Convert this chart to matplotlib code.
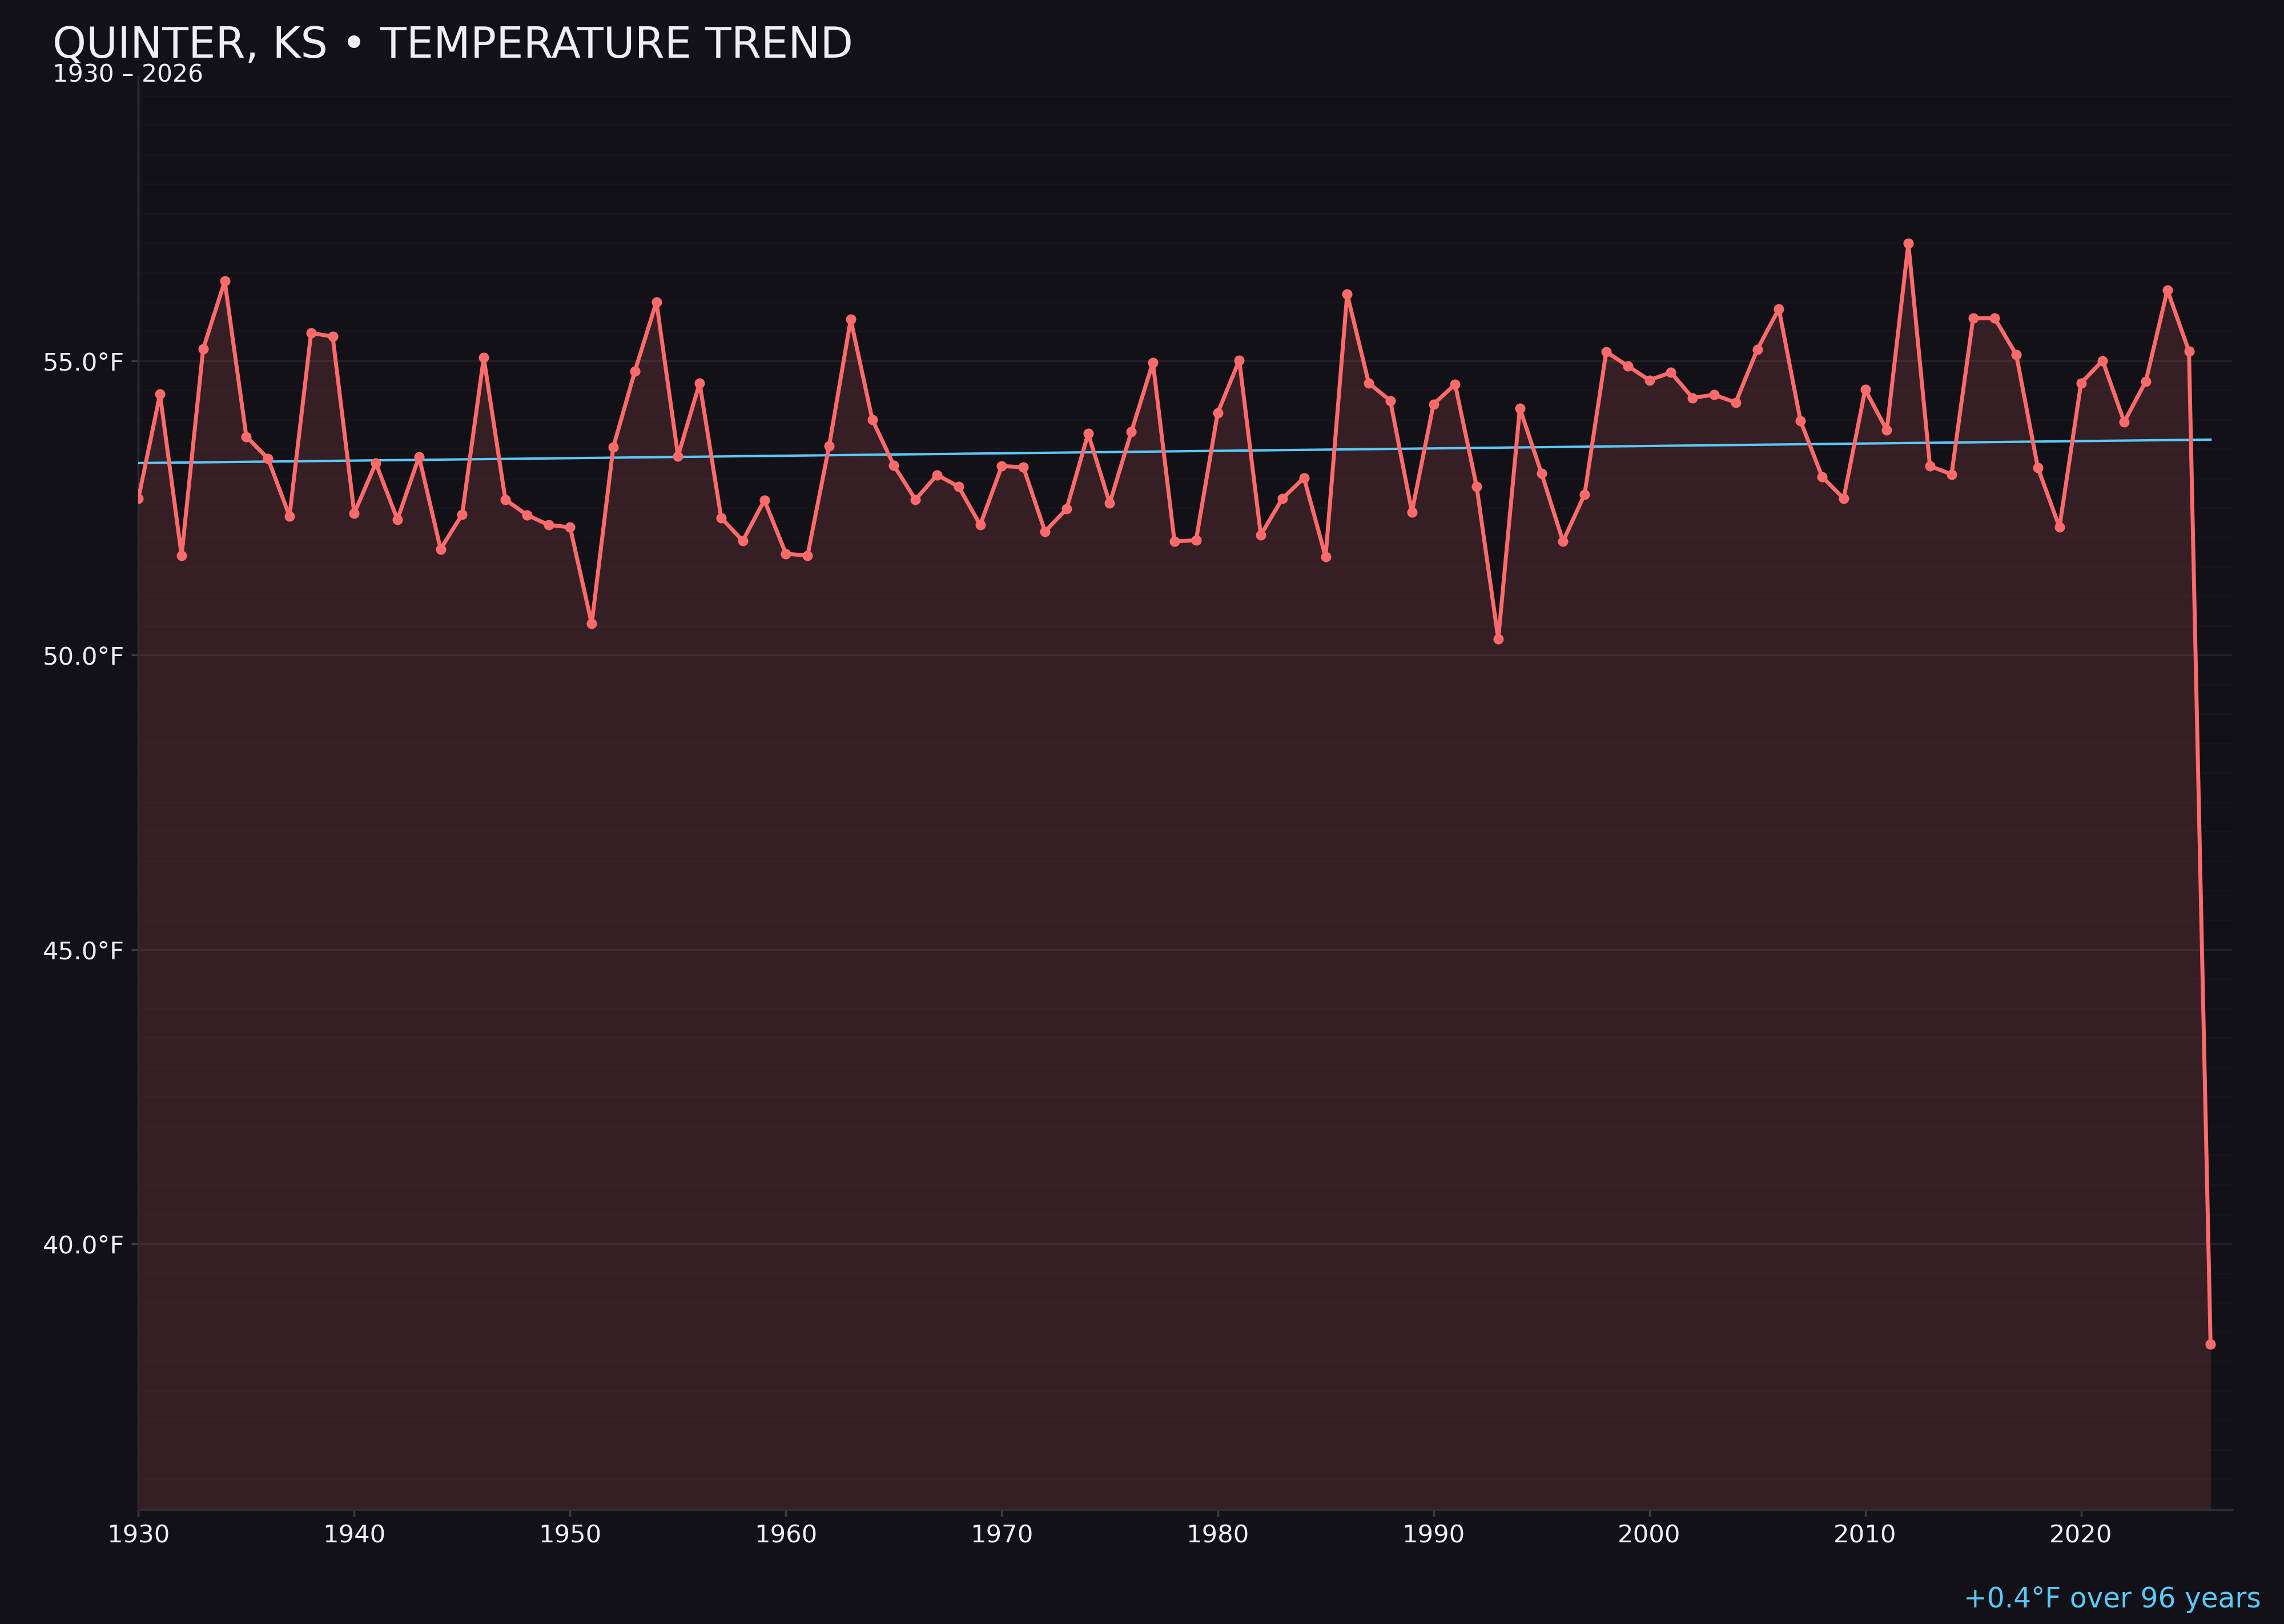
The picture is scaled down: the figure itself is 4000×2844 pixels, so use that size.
import numpy as np
import matplotlib
matplotlib.use("Agg")
import matplotlib.pyplot as plt
from matplotlib.ticker import MultipleLocator, FuncFormatter

# Annual mean temperature, Quinter KS
years = list(range(1930, 2027))
temps = [
    52.66, 54.43, 51.69, 55.20, 56.35, 53.71, 53.34, 52.36, 55.47, 55.41,  # 1930s
    52.41, 53.26, 52.30, 53.37, 51.80, 52.39, 55.05, 52.64, 52.38, 52.21,  # 1940s
    52.17, 50.53, 53.53, 54.82, 56.00, 53.38, 54.62, 52.33, 51.94, 52.63,  # 1950s
    51.72, 51.69, 53.55, 55.70, 54.00, 53.22, 52.64, 53.06, 52.86, 52.21,  # 1960s
    53.21, 53.19, 52.10, 52.48, 53.76, 52.58, 53.79, 54.97, 51.93, 51.95,  # 1970s
    54.11, 55.01, 52.04, 52.66, 53.01, 51.67, 56.13, 54.62, 54.32, 52.43,  # 1980s
    54.26, 54.60, 52.86, 50.27, 54.19, 53.09, 51.93, 52.73, 55.15, 54.91,  # 1990s
    54.67, 54.80, 54.37, 54.42, 54.29, 55.19, 55.88, 53.98, 53.03, 52.66,  # 2000s
    54.51, 53.82, 56.99, 53.21, 53.07, 55.72, 55.72, 55.10, 53.18, 52.17,  # 2010s
    54.62, 55.00, 53.96, 54.65, 56.20, 55.16, 38.29,                       # 2020s
]
xticks = list(range(1930, 2021, 10))

title = "QUINTER, KS \u2022 TEMPERATURE TREND"
subtitle = "1930 \u2013 2026"
trend_note = "+0.4\u00b0F over 96 years"

BG = "#121118"
RED = "#FF6B6B"
BLUE = "#5AC8FA"
TEXT = "#EEEEF3"

plt.rcParams['font.family'] = ['DejaVu Sans']

fig = plt.figure(figsize=(16, 11.376), dpi=250, facecolor=BG)
ax = fig.add_axes([0.0606, 0.0703, 0.9167, 0.8827])
ax.set_facecolor(BG)

x = np.array(years, dtype=float)
y = np.array(temps)

ymin, ymax = 35.48, 59.83
ax.set_xlim(1930, 2027)
ax.set_ylim(ymin, ymax)

# area under the curve
ax.fill_between(x, y, ymin, color=RED, alpha=0.15, linewidth=0, zorder=2)
ax.plot(x, y, color=RED, linewidth=2, marker='o', markersize=5.2,
        markeredgewidth=0, zorder=4)

# linear trend
slope, intercept = np.polyfit(x, y, 1)
ax.plot(x, slope * x + intercept, color=BLUE, linewidth=1.2, zorder=3)

# axes styling
ax.yaxis.set_major_locator(MultipleLocator(5))
ax.yaxis.set_minor_locator(MultipleLocator(0.5))
ax.yaxis.set_major_formatter(FuncFormatter(lambda v, p: f"{v:.1f}\u00b0F"))
ax.set_xticks(xticks)
ax.grid(which='major', axis='y', color='white', alpha=0.065, linewidth=1)
ax.grid(which='minor', axis='y', color='white', alpha=0.018, linewidth=0.8)
ax.grid(which='major', axis='x', visible=False)
ax.set_axisbelow(True)
ax.tick_params(axis='both', which='major', colors='#3A3A44', labelcolor=TEXT,
               labelsize=12.5, length=3.5, width=1)
ax.tick_params(axis='y', which='minor', length=0)
for side in ('top', 'right'):
    ax.spines[side].set_visible(False)
for side in ('left', 'bottom'):
    ax.spines[side].set_color('#2C2C36')
    ax.spines[side].set_linewidth(1)

fig.text(0.023, 0.9642, title, color=TEXT, fontsize=21.6, ha='left', va='baseline')
fig.text(0.023, 0.9494, subtitle, color=TEXT, fontsize=12.2, ha='left', va='baseline')
fig.text(0.990, 0.0102, trend_note, color=BLUE, fontsize=14, ha='right', va='baseline')

fig.savefig("out.png", dpi=250, facecolor=BG)
